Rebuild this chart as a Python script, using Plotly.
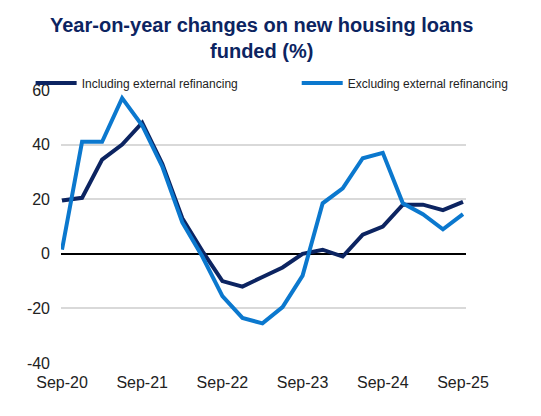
import plotly.graph_objects as go

# quarterly, Sep-20 .. Sep-25
quarters = ["Sep-20", "Dec-20", "Mar-21", "Jun-21", "Sep-21", "Dec-21", "Mar-22",
            "Jun-22", "Sep-22", "Dec-22", "Mar-23", "Jun-23", "Sep-23", "Dec-23",
            "Mar-24", "Jun-24", "Sep-24", "Dec-24", "Mar-25", "Jun-25", "Sep-25"]
incl_refi = [19.5, 20.5, 34.5, 40, 48, 33, 13, 1, -10, -12, -8.5, -5, 0, 1.5,
             -1, 7, 10, 18, 18, 16, 19]
excl_refi = [1.5, 41, 41, 57, 47, 32, 11.5, -1, -15.5, -23.5, -25.5, -19.5, -8, 18.5,
             24, 35, 37, 18.5, 14.5, 9, 14.5]
tick_labels = ["Sep-20", "Sep-21", "Sep-22", "Sep-23", "Sep-24", "Sep-25"]
y_ticks = [-40, -20, 0, 20, 40, 60]

x = list(range(len(quarters)))

fig = go.Figure()
fig.add_trace(go.Scatter(x=x, y=incl_refi, mode="lines", name="Including external refinancing",
                         line=dict(color="#0C2461", width=4), legend="legend"))
fig.add_trace(go.Scatter(x=x, y=excl_refi, mode="lines", name="Excluding external refinancing",
                         line=dict(color="#0B78CE", width=4), legend="legend2"))

leg_style = dict(orientation="h", yanchor="middle", y=1.026, xanchor="left",
                 font=dict(size=12, color="#222222"), bgcolor="rgba(0,0,0,0)",
                 itemwidth=41)

# page body adds an 8px margin, so the figure is 8px smaller and shifted
fig.update_layout(
    width=533, height=408,
    margin=dict(l=53, r=75, t=82, b=53),
    plot_bgcolor="white", paper_bgcolor="white",
    font=dict(family="Liberation Sans, Arial", size=16, color="#222222"),
    showlegend=True,
    legend=dict(x=-0.075, **leg_style),
    legend2=dict(x=0.582, **leg_style),
    annotations=[dict(text="<b>Year-on-year changes on new housing loans<br>funded (%)</b>",
                      xref="paper", yref="paper", x=0.494, y=1.19,
                      xanchor="center", yanchor="middle", showarrow=False,
                      font=dict(size=20, color="#0C2461"))],
)
fig.update_xaxes(range=[-0.05, 20.15], tickvals=[0, 4, 8, 12, 16, 20], ticktext=tick_labels,
                 showgrid=False, zeroline=False, showline=False, ticks="",
                 ticklabelstandoff=8, tickfont=dict(size=16, color="#222222"))
fig.update_yaxes(range=[-40, 60], tickvals=y_ticks, ticktext=[str(v) for v in y_ticks],
                 showgrid=True, gridcolor="#D9D9D9", gridwidth=1.5,
                 zeroline=True, zerolinecolor="black", zerolinewidth=2,
                 showline=False, ticks="", ticklabelstandoff=10,
                 tickfont=dict(size=16, color="#222222"))

fig.write_html("out.html")
